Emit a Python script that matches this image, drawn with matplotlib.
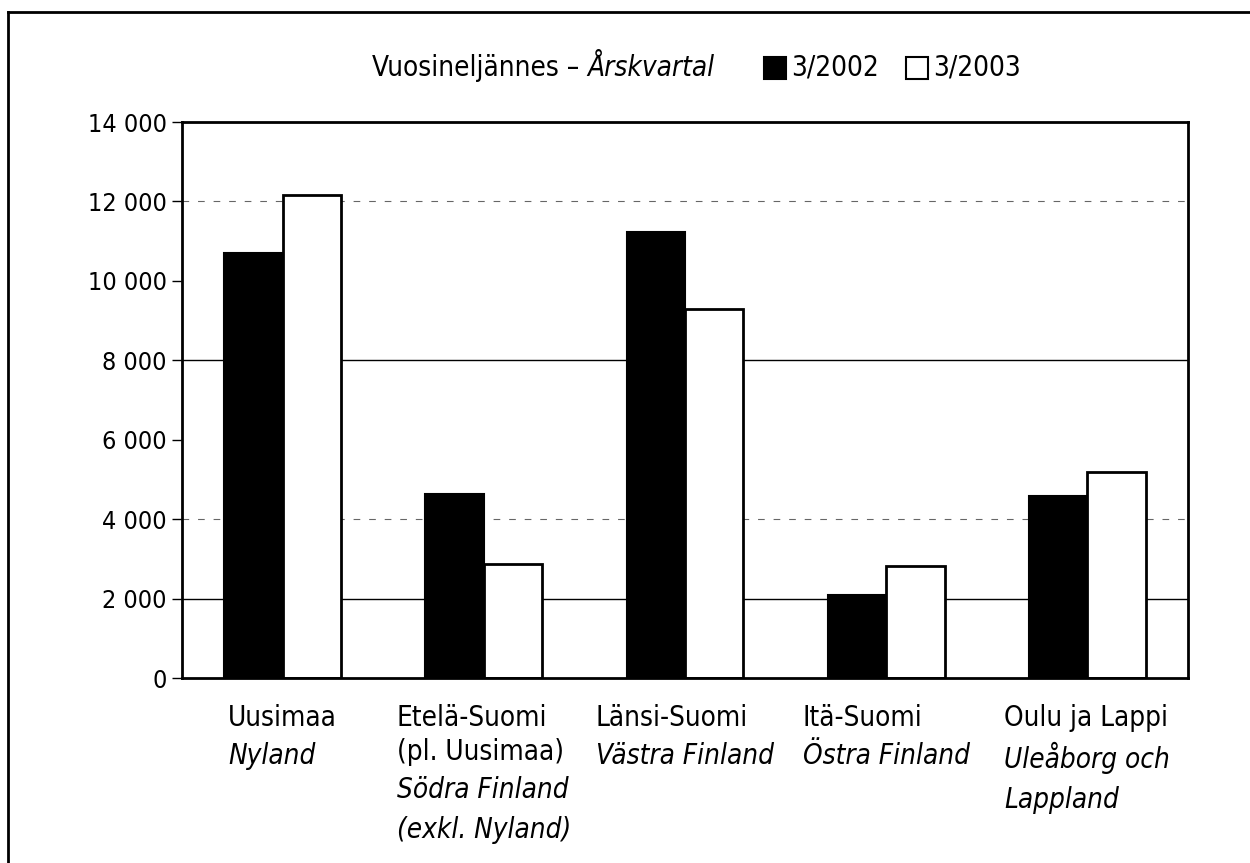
import numpy as np
import matplotlib
matplotlib.use("Agg")
import matplotlib.pyplot as plt
import matplotlib.transforms as mtransforms
from matplotlib.patches import Rectangle
from matplotlib.lines import Line2D

plt.rcParams['font.family'] = ['DejaVu Sans']
plt.rcParams['font.stretch'] = 'condensed'

# data
regions_fi = ["Uusimaa", "Etelä-Suomi\n(pl. Uusimaa)", "Länsi-Suomi", "Itä-Suomi", "Oulu ja Lappi"]
regions_sv = ["Nyland", "Södra Finland\n(exkl. Nyland)", "Västra Finland", "Östra Finland", "Uleåborg och\nLappland"]
q3_2002 = [10700, 4630, 11230, 2090, 4580]
q3_2003 = [12150, 2870, 9290, 2820, 5190]
series_names = ["3/2002", "3/2003"]
legend_title = "Vuosineljännes – "
legend_title_sv = "Årskvartal"
yticks = np.arange(0, 14001, 2000)

fs = 20
fs_tick = 18

W, H = 1250, 863
fig = plt.figure(figsize=(12.5, 8.63), dpi=100)
ax = fig.add_axes([182 / W, 1 - 678 / H, 1006 / W, 556 / H])

x = np.arange(len(regions_fi))
w = 0.29

# grid lines, as printed: some solid, some faint and broken
for yv in [2000, 8000]:
    ax.axhline(yv, color='black', lw=1.0, zorder=0)
for yv in [4000, 12000]:
    ax.axhline(yv, color='black', lw=0.8, ls=(0, (6, 8)), alpha=0.6, zorder=0)

ax.bar(x - w / 2, q3_2002, width=w, color='black', edgecolor='black', lw=1.5, zorder=2)
ax.bar(x + w / 2, q3_2003, width=w, color='white', edgecolor='black', lw=2.0, zorder=2)

ax.set_xlim(-0.5, len(regions_fi) - 0.5)
ax.set_ylim(0, 14000)
ax.set_yticks(yticks)
ax.set_yticklabels([f"{v:,}".replace(",", " ") for v in yticks], fontsize=fs_tick)
ax.set_xticks([])
ax.tick_params(axis='y', length=7, width=1.0, pad=4)
for s in ax.spines.values():
    s.set_linewidth(2.0)

# category labels: finnish upright, swedish italic; left-aligned block centred on the group
trans = mtransforms.blended_transform_factory(ax.transData, ax.transAxes)
fi_txt, sv_txt = [], []
for i in range(len(x)):
    t1 = ax.text(x[i], 0, regions_fi[i], transform=trans, ha='left', va='top',
                 fontsize=fs, linespacing=1.28)
    t2 = ax.text(x[i], 0, regions_sv[i], transform=trans, ha='left', va='top',
                 fontsize=fs, style='italic', linespacing=1.56)
    fi_txt.append(t1)
    sv_txt.append(t2)

fig.canvas.draw()
r = fig.canvas.get_renderer()
for i in range(len(x)):
    b1 = fi_txt[i].get_window_extent(r)
    b2 = sv_txt[i].get_window_extent(r)
    bw = max(b1.width, b2.width)
    fi_txt[i].set_transform(mtransforms.offset_copy(trans, fig=fig, x=-bw / 2, y=-26, units='dots'))
    sv_txt[i].set_transform(mtransforms.offset_copy(trans, fig=fig, x=-bw / 2,
                                                    y=-26 - b1.height - 10, units='dots'))

# legend row at the top
ly = 1 - 68 / H
t = fig.text(372 / W, ly, legend_title, fontsize=fs, va='center', ha='left')
fig.canvas.draw()
bb = t.get_window_extent(r)
fig.text(bb.x1 / W, ly, legend_title_sv, fontsize=fs, style='italic', va='center', ha='left')
sq = 22
for j, (fc, lx) in enumerate([('black', 764), ('white', 906)]):
    fig.patches.append(Rectangle((lx / W, ly - sq / 2 / H), sq / W, sq / H,
                                 transform=fig.transFigure, facecolor=fc,
                                 edgecolor='black', lw=1.5))
    fig.text((lx + sq + 5) / W, ly, series_names[j], fontsize=fs, va='center', ha='left')

# outer frame, cropped in the scan
fig.add_artist(Line2D([8 / W, 8 / W], [0, 1 - 12 / H], color='black', lw=2.0,
                      transform=fig.transFigure))
fig.add_artist(Line2D([8 / W, 1], [1 - 12 / H, 1 - 12 / H], color='black', lw=2.0,
                      transform=fig.transFigure))

fig.savefig("out.png", dpi=100)
